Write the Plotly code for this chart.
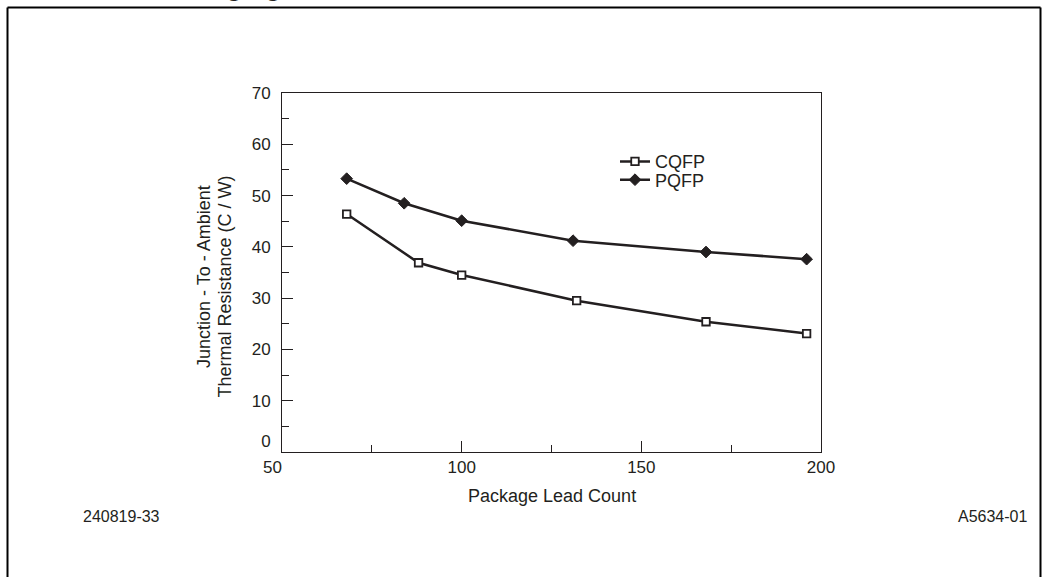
import plotly.graph_objects as go

# Data
cqfp_leads = [68, 88, 100, 132, 168, 196]
cqfp_theta = [46.4, 36.9, 34.5, 29.5, 25.4, 23.1]
pqfp_leads = [68, 84, 100, 131, 168, 196]
pqfp_theta = [53.3, 48.5, 45.1, 41.2, 39.0, 37.6]

x_ticks = [50, 100, 150, 200]
x_tick_labels = ["50\u00a0\u00a0\u00a0\u00a0", "100", "150", "200"]
y_ticks = [0, 10, 20, 30, 40, 50, 60, 70]
y_tick_labels = ["0<br> ", "10", "20", "30", "40", "50", "60", "70"]

INK = "#231f20"
FONT = "Liberation Sans, Arial, sans-serif"

W, H = 1048, 577
L, R, T, B = 282, 821, 93, 452  # plot area in pixels


def px(xp):
    return (xp - L) / (R - L)


def py(yp):
    return (B - yp) / (B - T)


fig = go.Figure()
fig.add_trace(go.Scatter(
    x=cqfp_leads, y=cqfp_theta, name="CQFP", mode="lines+markers",
    line=dict(color=INK, width=2.5),
    marker=dict(symbol="square", size=7.5, color="white",
                line=dict(color=INK, width=1.8)),
    legend="legend",
))
fig.add_trace(go.Scatter(
    x=pqfp_leads, y=pqfp_theta, name="PQFP", mode="lines+markers",
    line=dict(color=INK, width=2.5),
    marker=dict(symbol="diamond", size=9, color=INK,
                line=dict(color=INK, width=1)),
    legend="legend2",
))

axis_common = dict(
    showgrid=False, zeroline=False, showline=True, linecolor=INK,
    linewidth=1, mirror=True, ticks="inside", ticklen=11, tickwidth=1,
    tickcolor=INK, tickfont=dict(family=FONT, size=17, color=INK),
)

fig.update_xaxes(range=[50, 200], tickvals=x_ticks, ticktext=x_tick_labels,
                 minor=dict(ticks="inside", ticklen=7, dtick=25, tick0=50,
                            tickcolor=INK, tickwidth=1),
                 **axis_common)
fig.update_yaxes(range=[0, 70], tickvals=y_ticks, ticktext=y_tick_labels,
                 ticklabelstandoff=7,
                 minor=dict(ticks="inside", ticklen=7, dtick=5, tick0=0,
                            tickcolor=INK, tickwidth=1),
                 **axis_common)

legend_common = dict(
    xanchor="left", yanchor="middle", bgcolor="rgba(0,0,0,0)",
    borderwidth=0, font=dict(family=FONT, size=18, color=INK),
)

annotations = [
    dict(text="Junction - To - Ambient", x=px(204), y=py(277), textangle=-90),
    dict(text="Thermal Resistance (C / W)", x=px(224.5), y=py(287), textangle=-90),
    dict(text="Package Lead Count", x=px(551.5), y=py(496)),
    dict(text="240819-33", x=px(121), y=py(516), font=dict(family=FONT, size=16, color=INK)),
    dict(text="A5634-01", x=px(992), y=py(516), font=dict(family=FONT, size=16, color=INK)),
    dict(text="<b>Packaging</b>", x=px(216), y=py(-13),
         font=dict(family=FONT, size=26, color=INK)),
]
for a in annotations:
    a.setdefault("font", dict(family=FONT, size=18, color=INK))
    a.update(xref="paper", yref="paper", showarrow=False,
             xanchor="center", yanchor="middle")

shapes = [
    dict(type="line", xref="paper", yref="paper",
         x0=px(7.5), x1=px(7.5), y0=py(7.5), y1=py(600),
         line=dict(color="black", width=2)),
    dict(type="line", xref="paper", yref="paper",
         x0=px(7.5), x1=px(1040.5), y0=py(7.5), y1=py(7.5),
         line=dict(color="black", width=2)),
    dict(type="line", xref="paper", yref="paper",
         x0=px(1040.5), x1=px(1040.5), y0=py(7.5), y1=py(600),
         line=dict(color="black", width=2)),
]

fig.update_layout(
    width=W, height=H, autosize=False,
    margin=dict(l=L, r=W - R, t=T, b=H - B, pad=0),
    paper_bgcolor="white", plot_bgcolor="white",
    font=dict(family=FONT, size=17, color=INK),
    showlegend=True,
    legend=dict(x=px(615), y=py(161.7), **legend_common),
    legend2=dict(x=px(615), y=py(180), **legend_common),
    annotations=annotations,
    shapes=shapes,
)

fig.write_html(
    "out.html",
    config={"displayModeBar": False},
    post_script="document.body.style.margin='0';document.body.style.overflow='hidden';",
)
